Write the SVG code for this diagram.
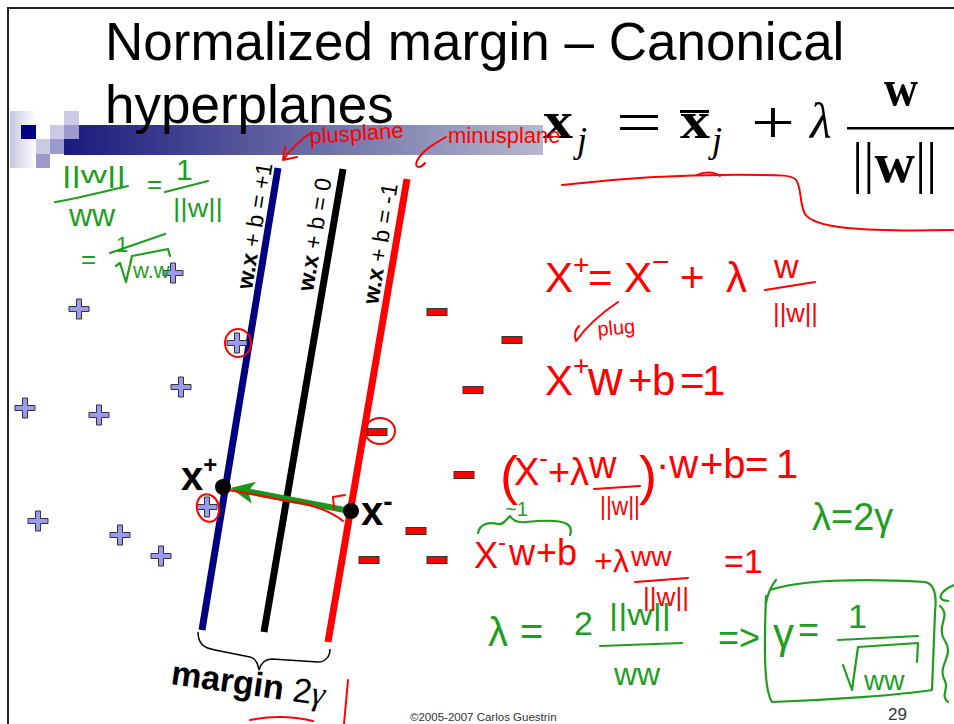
<svg xmlns="http://www.w3.org/2000/svg" xmlns:xlink="http://www.w3.org/1999/xlink" width="954" height="724" viewBox="0 0 954 724">
<defs>
<style>
.t{font-family:"Liberation Sans",Arial,sans-serif}
.serif{font-family:"Liberation Serif","Times New Roman",serif}
.hr{font-family:"Liberation Sans",Arial,sans-serif;fill:#f00}
.hg{font-family:"Liberation Sans",Arial,sans-serif;fill:#1e9e1e}
.sr{fill:none;stroke:#f00;stroke-width:2;stroke-linecap:round;stroke-linejoin:round}
.sg{fill:none;stroke:#1e9e1e;stroke-width:2.2;stroke-linecap:round;stroke-linejoin:round}
.plane{stroke-width:7;stroke-linecap:butt}
.pt{fill:#9a9af0;stroke:#333;stroke-width:1}
.mn{fill:#f00;stroke:#333;stroke-width:1}
.lab{font-family:"Liberation Sans",Arial,sans-serif;font-size:23px;fill:#000}
</style>
<linearGradient id="bar" x1="64" y1="0" x2="543" y2="0" gradientUnits="userSpaceOnUse">
<stop offset="0" stop-color="#1a1a7c"/>
<stop offset="1" stop-color="#b6b8cd"/>
</linearGradient>
<linearGradient id="fade" x1="0" y1="0" x2="1" y2="0">
<stop offset="0" stop-color="#c6c7e2"/>
<stop offset="1" stop-color="#ffffff"/>
</linearGradient>
<path id="plus" class="pt" d="M-2.5,-10 h5 v7.5 h7.5 v5 h-7.5 v7.5 h-5 v-7.5 h-7.5 v-5 h7.5 z"/>
<rect id="minus" class="mn" x="-10" y="-3.5" width="20" height="7"/>
<marker id="ga" markerUnits="userSpaceOnUse" markerWidth="28" markerHeight="26" viewBox="-8 -13 28 26" refX="0" refY="0" orient="auto">
<path d="M18,0 L-6,-11 L0,0 L-6,11 Z" fill="#1a961a"/>
</marker>
</defs>

<rect width="954" height="724" fill="#fff"/>

<g id="frame" stroke="#222" stroke-width="2" fill="none">
<path d="M8,724 L8,8 L954,8"/>
</g>

<g id="logo">
<rect x="10" y="111" width="26" height="57" fill="url(#fade)"/>
<rect x="64" y="125" width="479" height="30" fill="url(#bar)"/>
<rect x="64" y="111" width="15" height="14" fill="#c9cae6"/>
<rect x="21" y="125" width="15" height="14" fill="#000080"/>
<rect x="50" y="125" width="14" height="14" fill="#c9cae6"/>
<rect x="64" y="125" width="15" height="14" fill="#9a9bcc"/>
<rect x="36" y="139" width="14" height="15" fill="#c9cae6"/>
<rect x="50" y="139" width="14" height="15" fill="#9a9bcc"/>
<rect x="36" y="154" width="14" height="14" fill="#9a9bcc"/>
</g>

<g id="title" class="t" font-size="53" fill="#000">
<text x="105" y="60">Normalized margin – Canonical</text>
<text x="105" y="123">hyperplanes</text>
</g>

<g id="equation" class="serif" fill="#000">
<text x="543" y="138" font-size="52" font-weight="bold" textLength="30" lengthAdjust="spacingAndGlyphs">x</text>
<text x="577" y="152" font-size="36" font-style="italic">j</text>
<text x="616" y="143" font-size="62" textLength="46" lengthAdjust="spacingAndGlyphs">=</text>
<text x="680" y="138" font-size="52" font-weight="bold" textLength="30" lengthAdjust="spacingAndGlyphs">x</text>
<rect x="680" y="110" width="29" height="3"/>
<text x="712" y="152" font-size="36" font-style="italic">j</text>
<text x="751" y="143" font-size="62" textLength="44" lengthAdjust="spacingAndGlyphs">+</text>
<text x="810" y="138" font-size="50" font-style="italic">λ</text>
<text x="884" y="105" font-size="50" font-weight="bold" textLength="34" lengthAdjust="spacingAndGlyphs">w</text>
<rect x="847" y="127" width="107" height="2.5"/>
<text x="852" y="182" font-size="56">||<tspan font-weight="bold">w</tspan>||</text>
</g>

<g id="plane-plus">
<line class="plane" x1="278" y1="168" x2="202" y2="630" stroke="#000080"/>
<text class="lab" transform="translate(252,290) rotate(-80.7)"><tspan font-weight="bold">w.x</tspan> + b = +1</text>
</g>
<g id="plane-zero">
<line class="plane" x1="343" y1="169" x2="264" y2="632" stroke="#000"/>
<text class="lab" transform="translate(313,292) rotate(-80.7)"><tspan font-weight="bold">w.x</tspan> + b = 0</text>
</g>
<g id="plane-minus">
<line class="plane" x1="407" y1="179" x2="328" y2="642" stroke="#f00"/>
<text class="lab" transform="translate(378,305) rotate(-80.7)"><tspan font-weight="bold">w.x</tspan> + b = -1</text>
</g>

<g id="positives">
<use xlink:href="#plus" x="173" y="273"/>
<use xlink:href="#plus" x="79" y="309"/>
<use xlink:href="#plus" x="237" y="343"/>
<use xlink:href="#plus" x="181" y="387"/>
<use xlink:href="#plus" x="25" y="408"/>
<use xlink:href="#plus" x="99" y="415"/>
<use xlink:href="#plus" x="207" y="507"/>
<use xlink:href="#plus" x="38" y="521"/>
<use xlink:href="#plus" x="120" y="535"/>
<use xlink:href="#plus" x="161" y="556"/>
</g>

<g id="negatives">
<use xlink:href="#minus" x="437" y="312"/>
<use xlink:href="#minus" x="512" y="340"/>
<use xlink:href="#minus" x="473" y="390"/>
<use xlink:href="#minus" x="377" y="432"/>
<use xlink:href="#minus" x="464" y="475"/>
<use xlink:href="#minus" x="416" y="531"/>
<use xlink:href="#minus" x="369" y="560"/>
<use xlink:href="#minus" x="437" y="560"/>
</g>

<g id="margin-brace">
<path d="M198,632 C198,645 205,648 215,650 L250,657 C256,658 258,664 259,670 C261,663 265,659 272,659 L318,662 C326,662 330,656 330,649" fill="none" stroke="#000" stroke-width="1.5"/>
<text class="t" font-size="34" transform="translate(170,684) rotate(8)"><tspan font-weight="bold">margin</tspan> 2<tspan class="serif" font-style="italic">γ</tspan></text>
</g>

<g id="connectors">
<path d="M350,511 L248,491.5" stroke="#1a961a" stroke-width="6" fill="none" marker-end="url(#ga)"/>
<path class="sr" d="M228,490 C255,494 280,500 300,503 C320,507 333,513 343,521"/>
<path class="sr" d="M334,509 L333,497 L345,495"/>
<path class="sr" d="M312,132 C300,140 290,150 283,160 M283,160 L285,147 M283,160 L297,157"/>
<path class="sr" d="M446,137 C432,145 421,152 417,161 C414,168 420,169 425,163"/>
<path class="sr" d="M618,302 C600,314 586,327 576,341 M576,341 C574,335 575,330 579,326"/>
</g>

<g id="point-xplus">
<circle cx="223" cy="487" r="8" fill="#000"/>
<text class="t" font-size="40" font-weight="bold" x="181" y="490">x<tspan font-size="24" dy="-17">+</tspan></text>
</g>
<g id="point-xminus">
<circle cx="351" cy="511" r="8" fill="#000"/>
<text class="t" font-size="40" font-weight="bold" x="361" y="525">x<tspan font-size="28" dy="-14">-</tspan></text>
</g>

<g id="red-marks">
<ellipse class="sr" cx="238" cy="343" rx="13" ry="14"/>
<ellipse class="sr" cx="208" cy="508" rx="11" ry="14" transform="rotate(-15 208 508)"/>
<ellipse class="sr" cx="380" cy="431" rx="15" ry="13"/>
<path class="sr" d="M562,185 C640,176 700,174 760,175 C780,175 792,175 796,180 C802,188 799,203 805,214 C814,228 860,232 953,230"/>
<path class="sr" d="M697,175 C705,171 715,172 720,176"/>
<path class="sr" d="M250,720 C270,716 292,716 313,721"/>
<path class="sr" d="M348,680 L344,724"/>
<text class="hr" font-size="22" transform="translate(310,144) rotate(-4)">plusplane</text>
<text class="hr" font-size="22" x="448" y="143">minusplane</text>
</g>

<g id="red-work">
<text class="hr" font-size="42"><tspan x="545" y="292">X</tspan><tspan font-size="28" dy="-18">+</tspan><tspan x="588" y="292">=</tspan><tspan x="624">X</tspan><tspan font-size="30" dy="-20">−</tspan><tspan x="680" y="292">+</tspan><tspan x="726">λ</tspan></text>
<text class="hr" font-size="34" x="774" y="278">w</text>
<path class="sr" d="M765,290 L815,282"/>
<text class="hr" font-size="26" x="773" y="322" textLength="45" lengthAdjust="spacingAndGlyphs">||w||</text>
<text class="hr" font-size="20" transform="translate(598,336) rotate(-5)">plug</text>

<text class="hr" font-size="42"><tspan x="545" y="395">X</tspan><tspan font-size="28" dy="-20">+</tspan><tspan x="588" y="395" font-size="48">w</tspan><tspan x="628" y="395">+</tspan><tspan x="652">b</tspan><tspan x="680">=</tspan><tspan x="702">1</tspan></text>

<text class="hr" font-size="54" x="500" y="494">(</text>
<text class="hr" font-size="38"><tspan x="514" y="485">X</tspan><tspan font-size="26" dy="-18">-</tspan><tspan x="548" y="485">+</tspan><tspan x="570">λ</tspan></text>
<text class="hr" font-size="38" x="589" y="478">w</text>
<path class="sr" d="M594,489 L640,486"/>
<text class="hr" font-size="26" x="600" y="515" textLength="40" lengthAdjust="spacingAndGlyphs">||w||</text>
<text class="hr" font-size="54" x="639" y="494">)</text>
<text class="hr" font-size="40"><tspan x="656" y="478">·w</tspan><tspan x="700">+b</tspan><tspan x="745">=</tspan><tspan x="776">1</tspan></text>

<text class="hr" font-size="36"><tspan x="474" y="568">X</tspan><tspan font-size="24" dy="-18">-</tspan><tspan x="509" y="565">w</tspan><tspan x="536">+b</tspan></text>
<text class="hr" font-size="32"><tspan x="594" y="572">+</tspan><tspan x="613">λ</tspan></text>
<text class="hr" font-size="28" x="631" y="566">ww</text>
<path class="sr" d="M635,582 L688,578"/>
<text class="hr" font-size="26" x="643" y="606" textLength="46" lengthAdjust="spacingAndGlyphs">||w||</text>
<text class="hr" font-size="34" x="724" y="573">=1</text>
</g>

<g id="green-work">
<text class="hg" font-size="24" x="62" y="183" textLength="64" lengthAdjust="spacingAndGlyphs">||w||</text>
<path class="sg" d="M55,202 C80,198 110,190 128,186"/>
<text class="hg" font-size="32" x="69" y="226">ww</text>
<text class="hg" font-size="26" x="147" y="193">=</text>
<text class="hg" font-size="30" x="176" y="180">1</text>
<path class="sg" d="M165,192 L208,181"/>
<text class="hg" font-size="26" x="173" y="217" textLength="50" lengthAdjust="spacingAndGlyphs">||w||</text>
<text class="hg" font-size="26" x="81" y="268">=</text>
<text class="hg" font-size="22" x="116" y="252">1</text>
<path class="sg" d="M110,253 L165,234"/>
<path class="sg" d="M116,266 L120,263 L126,282 L132,256 L168,249 L170,256"/>
<text class="hg" font-size="22" x="133" y="278">w.w</text>

<path class="sg" d="M478,533 C480,523 490,522 498,524 C503,525 506,520 510,516 C513,521 518,523 526,522 C545,520 560,520 567,524 C572,527 571,533 570,535"/>
<text class="hg" font-size="20" x="505" y="516">~1</text>

<text class="hg" font-size="38" x="812" y="530">λ=2γ</text>

<text class="hg" font-size="40" x="488" y="646">λ</text>
<text class="hg" font-size="40" x="520" y="645">=</text>
<text class="hg" font-size="34" x="574" y="635">2</text>
<text class="hg" font-size="30" x="609" y="625" textLength="62" lengthAdjust="spacingAndGlyphs">||w||</text>
<path class="sg" d="M600,646 L682,643"/>
<text class="hg" font-size="32" x="614" y="685">ww</text>
<text class="hg" font-size="36" x="718" y="650">=&gt;</text>

<path class="sg" d="M766,603 C768,592 772,585 776,580 M770,590 C800,580 860,578 925,582 C935,584 937,595 935,612 L932,690 C900,695 830,700 772,702 C764,690 764,650 766,596"/>
<text class="hg" font-size="42" x="773" y="648">γ</text>
<text class="hg" font-size="36" x="798" y="642">=</text>
<text class="hg" font-size="34" x="848" y="628">1</text>
<path class="sg" d="M838,640 L918,636"/>
<path class="sg" d="M843,665 L852,690 L858,647 L918,643 L917,662"/>
<text class="hg" font-size="28" x="864" y="690">ww</text>
<path class="sg" d="M954,585 C942,590 934,600 948,601 M940,606 C952,616 935,626 945,641 C955,656 936,666 945,681 C949,690 940,695 948,702"/>
</g>

<g id="footer" class="t" fill="#333">
<text x="410" y="721" font-size="11.5">©2005-2007 Carlos Guestrin</text>
<text x="888" y="720" font-size="17">29</text>
</g>
</svg>
